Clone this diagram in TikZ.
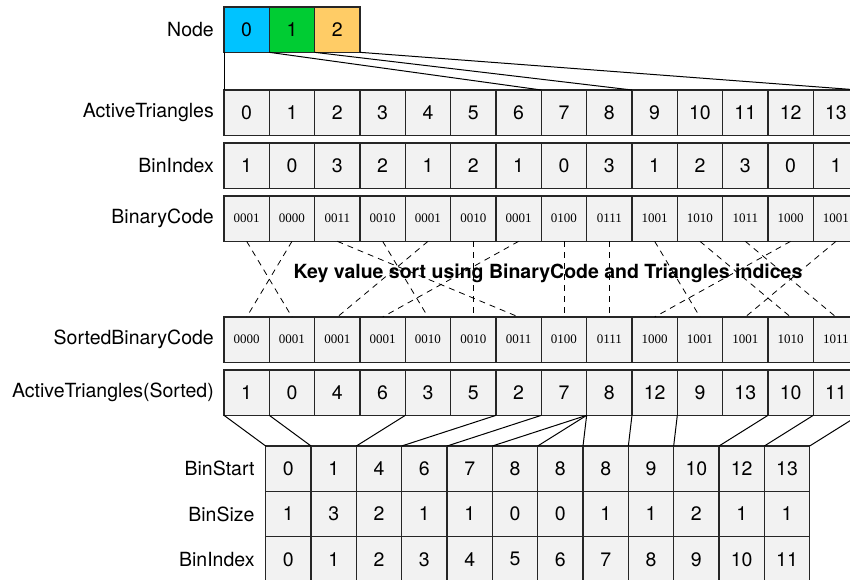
\documentclass[tikz,border=0pt]{standalone}
\usepackage{fontspec}
\setmainfont{TeX Gyre Heros}
\newfontfamily\codefont{Liberation Serif}
\usetikzlibrary{positioning}

\definecolor{nodeblue}{HTML}{00C3FF}
\definecolor{nodegreen}{HTML}{00CC33}
\definecolor{nodeorange}{HTML}{FFCC66}
\definecolor{cellgray}{HTML}{F2F2F2}

\begin{document}
\begin{tikzpicture}[x=1pt,y=-1pt,
    cell/.style={draw=black!85, fill=cellgray, line width=1.1pt, minimum width=45.33pt,
      minimum height=45.33pt, inner sep=0pt, outer sep=0pt, anchor=north west,
      font=\fontsize{19.5}{22}\selectfont},
    code/.style={cell, font=\codefont\fontsize{13}{14}\selectfont},
    rowlabel/.style={inner sep=0pt, font=\fontsize{19.5}{22}\selectfont},
    sortline/.style={dash pattern=on 6pt off 5pt, line width=0.8pt},
    binline/.style={line width=1pt}]

  \useasboundingbox (0,0) rectangle (850,579);

  % Cell width and the left edges of the two blocks
  \def\w{45.33}
  \def\xa{224}    % triangle rows
  \def\xb{265.7}  % bin rows

  % Octree nodes
  \node[cell, fill=nodeblue] (n0) at (\xa,7) {0};
  \node[cell, fill=nodegreen, right=0pt of n0] (n1) {1};
  \node[cell, fill=nodeorange, right=0pt of n1] (n2) {2};

  % Triangle rows before the sort
  \foreach \v [count=\i from 0] in {0,1,2,3,4,5,6,7,8,9,10,11,12,13}
    \node[cell] (at\i) at (\xa+\i*\w,90) {\v};
  \foreach \v [count=\i from 0] in {1,0,3,2,1,2,1,0,3,1,2,3,0,1}
    \node[cell] (bi\i) at (\xa+\i*\w,143) {\v};
  \foreach \v [count=\i from 0] in {0001,0000,0011,0010,0001,0010,0001,0100,0111,1001,1010,1011,1000,1001}
    \node[code] (bc\i) at (\xa+\i*\w,196) {\v};

  % Triangle rows after the sort
  \foreach \v [count=\i from 0] in {0000,0001,0001,0001,0010,0010,0011,0100,0111,1000,1001,1001,1010,1011}
    \node[code] (sbc\i) at (\xa+\i*\w,317) {\v};
  \foreach \v [count=\i from 0] in {1,0,4,6,3,5,2,7,8,12,9,13,10,11}
    \node[cell] (st\i) at (\xa+\i*\w,370) {\v};

  % Bin table
  \foreach \v [count=\i from 0] in {0,1,4,6,7,8,8,8,9,10,12,13}
    \node[cell] (bs\i) at (\xb+\i*\w,446) {\v};
  \foreach \v [count=\i from 0] in {1,3,2,1,1,0,0,1,1,2,1,1}
    \node[cell] (bz\i) at (\xb+\i*\w,491.33) {\v};
  \foreach \v [count=\i from 0] in {0,1,2,3,4,5,6,7,8,9,10,11}
    \node[cell] (bx\i) at (\xb+\i*\w,536.67) {\v};

  % Row labels
  \node[rowlabel, left=10pt of n0] (lnode) {Node};
  \node[rowlabel, left=10pt of at0] (lat) {ActiveTriangles};
  \node[rowlabel, left=10pt of bi0] (lbi) {BinIndex};
  \node[rowlabel, left=10pt of bc0] (lbc) {BinaryCode};
  \node[rowlabel, left=10pt of sbc0] (lsbc) {SortedBinaryCode};
  \node[rowlabel, left=10pt of st0] (lst) {ActiveTriangles(Sorted)};
  \node[rowlabel, left=11pt of bs0] (lbs) {BinStart};
  \node[rowlabel, left=11pt of bz0] (lbz) {BinSize};
  \node[rowlabel, left=11pt of bx0] (lbx) {BinIndex};

  % Triangles owned by each node
  \draw[binline] (n0.south west) -- (at0.north west);
  \draw[binline] (n0.south east) -- (at7.north west);
  \draw[binline] (n1.south east) -- (at9.north west);
  \draw[binline] (n2.south east) -- (at13.north east);

  % Sort permutation
  \node[font=\bfseries\fontsize{19.5}{22}\selectfont] (title) at (548,273)
    {Key value sort using BinaryCode and Triangles indices};
  \foreach \t/\s in {0/1,1/0,2/6,3/4,4/2,5/5,6/3,7/7,8/8,9/10,10/12,11/13,12/9,13/11}
    \draw[sortline] (bc\t.south) -- (sbc\s.north);

  % Bin starts into the sorted triangles
  \foreach \k/\s in {0/0,1/1,2/4,3/6,4/7,5/8,6/8,7/8,8/9,9/10,10/12,11/13}
    \draw[binline] (st\s.south west) -- (bs\k.north west);
  \draw[binline] (st13.south east) -- (bs11.north east);

\end{tikzpicture}
\end{document}
